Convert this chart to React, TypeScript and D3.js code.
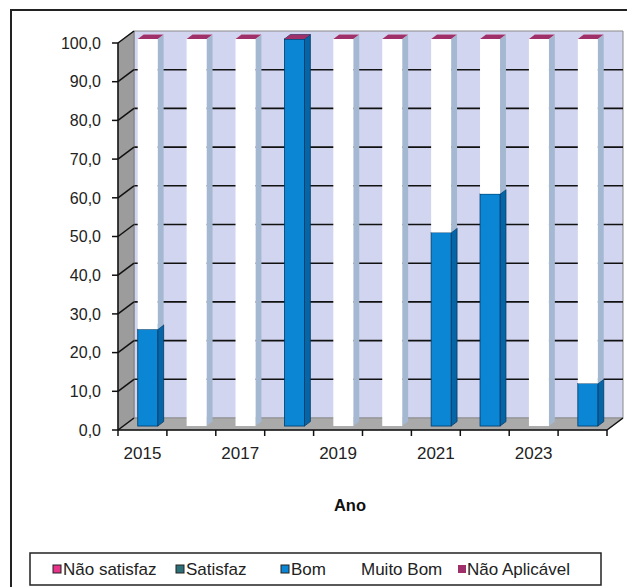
import React from "react";
import * as d3 from "d3";

const years = ["2015", "2016", "2017", "2018", "2019", "2020", "2021", "2022", "2023", "2024"];
const tickYears = ["2015", "2017", "2019", "2021", "2023"];
const naoSatisfaz = [0, 0, 0, 0, 0, 0, 0, 0, 0, 0];
const satisfaz = [0, 0, 0, 0, 0, 0, 0, 0, 0, 0];
const bom = [25, 0, 0, 100, 0, 0, 50, 60, 0, 11];
const muitoBom = [75, 100, 100, 0, 100, 100, 50, 40, 100, 89];
const naoAplicavel = [0, 0, 0, 0, 0, 0, 0, 0, 0, 0];
const yTicks = [0, 10, 20, 30, 40, 50, 60, 70, 80, 90, 100];

const seriesNames = ["Não satisfaz", "Satisfaz", "Bom", "Muito Bom", "Não Aplicável"];
const seriesData = [naoSatisfaz, satisfaz, bom, muitoBom, naoAplicavel];
const front = ["#e8338a", "#2e7078", "#0a86d4", "#ffffff", "#a0306a"];
const side = ["#a82060", "#1e5058", "#0565a6", "#a4b8d2", "#7a2050"];
const topC = ["#f060a0", "#3a8890", "#2a9ae0", "#f4f6fb", "#a0306a"];
const edge = ["#5a1030", "#103036", "#043a66", "none", "none"];

const W = 627, H = 587;
const X0 = 118, X1 = 607;
const DX = 16, DY = -12;
const font = "'Liberation Sans', Arial, sans-serif";

export default function App() {
  const x = d3.scaleBand<string>().domain(years).range([X0, X1]);
  const y = d3.scaleLinear().domain([0, 100]).range([430, 43]);
  const d1 = 0.33, d2 = 0.7;
  const bw = 20;
  const pts = (a: number[][]) => a.map((p) => p.join(",")).join(" ");

  const bars: React.ReactNode[] = [];
  years.forEach((yr, i) => {
    const cx = (x(yr) as number) + x.bandwidth() / 2;
    const fx = cx - bw / 2 + DX * d1;
    const sdx = DX * (d2 - d1), sdy = DY * (d2 - d1);
    let base = 0;
    seriesData.forEach((s, k) => {
      const v = s[i];
      const yb = y(base) + DY * d1;
      const yt = y(base + v) + DY * d1;
      const key = `${i}-${k}`;
      if (v > 0) {
        bars.push(
          <g key={key}>
            <polygon
              points={pts([[fx + bw, yb], [fx + bw + sdx, yb + sdy], [fx + bw + sdx, yt + sdy], [fx + bw, yt]])}
              fill={side[k]}
              stroke={edge[k]}
              strokeWidth={0.8}
            />
            <rect x={fx} y={yt} width={bw} height={yb - yt} fill={front[k]} stroke={edge[k]} strokeWidth={0.8} />
            <polygon
              points={pts([[fx, yt], [fx + sdx, yt + sdy], [fx + bw + sdx, yt + sdy], [fx + bw, yt]])}
              fill={topC[k]}
              stroke={edge[k]}
              strokeWidth={0.8}
            />
          </g>
        );
      } else if (k === seriesData.length - 1) {
        bars.push(
          <polygon
            key={key}
            points={pts([[fx, yt], [fx + sdx, yt + sdy], [fx + bw + sdx, yt + sdy], [fx + bw, yt]])}
            fill={topC[k]}
          />
        );
      }
      base += v;
    });
  });

  const legendItems = [
    { x: 53, tx: 63 },
    { x: 176, tx: 186 },
    { x: 281, tx: 291 },
    { x: 350, tx: 361 },
    { x: 458, tx: 467 },
  ];

  return (
    <svg width={W} height={H} style={{ position: "absolute", left: 0, top: 0, background: "#fff" }}>
      <rect x={11} y={10} width={W + 10} height={H + 10} fill="#fff" stroke="#222" strokeWidth={2} />
      {/* back wall */}
      <polygon
        points={pts([[X0 + DX, y(0) + DY], [X1 + DX, y(0) + DY], [X1 + DX, y(100) + DY], [X0 + DX, y(100) + DY]])}
        fill="#d2d5ef"
        stroke="#8a8a8a"
        strokeWidth={1}
      />
      {yTicks.slice(1, -1).map((t) => (
        <line key={"g" + t} x1={X0 + DX} x2={X1 + DX} y1={y(t) + DY} y2={y(t) + DY} stroke="#111" strokeWidth={1.6} />
      ))}
      {/* left wall */}
      <polygon
        points={pts([[X0, y(0)], [X0 + DX, y(0) + DY], [X0 + DX, y(100) + DY], [X0, y(100)]])}
        fill="#9c9c9c"
        stroke="#777"
        strokeWidth={0.8}
      />
      {/* floor */}
      <polygon
        points={pts([[X0, y(0)], [X1, y(0)], [X1 + DX, y(0) + DY], [X0 + DX, y(0) + DY]])}
        fill="#aaaaaa"
        stroke="#888"
        strokeWidth={0.8}
      />
      {yTicks.map((t) => (
        <g key={"t" + t}>
          <line x1={X0} x2={X0 + DX} y1={y(t)} y2={y(t) + DY} stroke="#111" strokeWidth={1.5} />
          <line x1={X0 - 6} x2={X0} y1={y(t)} y2={y(t)} stroke="#111" strokeWidth={1.5} />
          <text
            x={101}
            y={y(t)}
            dy="0.36em"
            textAnchor="end"
            fontFamily={font}
            fontSize={16}
            fill="#222"
          >
            {t.toFixed(1).replace(".", ",")}
          </text>
        </g>
      ))}
      {bars}
      {/* axes */}
      <line x1={X0} x2={X0} y1={y(0)} y2={y(100)} stroke="#111" strokeWidth={1.5} />
      <line x1={X0} x2={X1} y1={y(0)} y2={y(0)} stroke="#111" strokeWidth={1.5} />
      <line x1={X1} x2={X1 + DX} y1={y(0)} y2={y(0) + DY} stroke="#111" strokeWidth={1.5} />
      {years.concat(["end"]).map((yr, i) => {
        const xx = X0 + i * x.bandwidth();
        return <line key={"xt" + i} x1={xx} x2={xx} y1={y(0)} y2={y(0) + 6} stroke="#111" strokeWidth={1.5} />;
      })}
      {tickYears.map((yr) => (
        <text
          key={"xl" + yr}
          x={(x(yr) as number) + x.bandwidth() / 2}
          y={459}
          textAnchor="middle"
          fontFamily={font}
          fontSize={17}
          fill="#222"
        >
          {yr}
        </text>
      ))}
      <text x={350} y={511} textAnchor="middle" fontFamily={font} fontSize={16.5} fontWeight="bold" fill="#111">
        Ano
      </text>
      {/* legend */}
      <rect x={30} y={553} width={571} height={32} fill="#fff" stroke="#222" strokeWidth={1.5} />
      {seriesNames.map((n, k) => (
        <g key={"lg" + k}>
          {k !== 3 && (
            <rect
              x={legendItems[k].x}
              y={565}
              width={8}
              height={8}
              fill={front[k]}
              stroke={k === 4 ? "none" : "#222"}
              strokeWidth={1}
            />
          )}
          <text x={legendItems[k].tx} y={575} fontFamily={font} fontSize={17} fill="#222">
            {n}
          </text>
        </g>
      ))}
    </svg>
  );
}
